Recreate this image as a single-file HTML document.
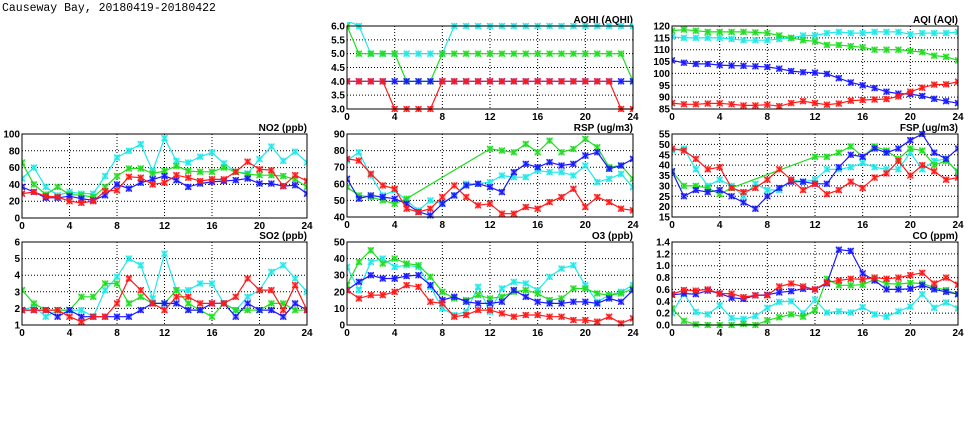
<!DOCTYPE html>
<html><head><meta charset="utf-8"><style>
body{margin:0;background:#fff;}
svg{display:block;}
text{font-family:"Liberation Sans",sans-serif;font-size:10px;font-weight:bold;fill:#000;}
</style></head><body>
<svg id="s" width="975" height="447" xmlns="http://www.w3.org/2000/svg">
<text x="2" y="11" style="font-family:'Liberation Mono',monospace;font-size:11.5px;font-weight:normal">Causeway Bay, 20180419-20180422</text>
</svg>
<script>
var S=document.getElementById('s'),NS='http://www.w3.org/2000/svg',out='';
var C={c:'#22e8e8',g:'#22dd22',b:'#1a1aff',r:'#ff1a1a'};
function panel(x0,x1,y0,y1,ymin,ymax,step,fmt,title,series){
 var W=x1-x0,H=y1-y0;
 function X(h){return x0+h/24*W;} function Y(v){return y1-(v-ymin)/(ymax-ymin)*H;}
 var s='';
 for(var h=4;h<24;h+=4)s+='<line x1="'+X(h)+'" x2="'+X(h)+'" y1="'+y0+'" y2="'+y1+'" stroke="#000" stroke-width="1" stroke-dasharray="1,2"/>';
 for(var v=ymin+step;v<ymax-1e-9;v+=step)s+='<line x1="'+x0+'" x2="'+x1+'" y1="'+Y(v)+'" y2="'+Y(v)+'" stroke="#000" stroke-width="1" stroke-dasharray="1,2"/>';
 for(var h=0;h<=24;h+=4)s+='<text x="'+X(h)+'" y="'+(y1+11)+'" text-anchor="middle">'+h+'</text>';
 for(var v=ymin;v<=ymax+1e-9;v+=step)s+='<text x="'+(x0-2)+'" y="'+(Y(v)+3.5)+'" text-anchor="end">'+v.toFixed(fmt)+'</text>';
 s+='<text x="'+x1+'" y="'+(y0-3)+'" text-anchor="end">'+title+'</text>';
 s+='<svg x="'+x0+'" y="'+(y0-4)+'" width="'+W+'" height="'+(H+8)+'" overflow="hidden"><g transform="translate('+(-x0)+','+(-(y0-4))+')">';
 ['c','g','b','r'].forEach(function(k){var d=series[k];if(!d)return;var col=C[k],pts=[];
  d.forEach(function(v,i){if(v!==null)pts.push([X(i),Math.min(Y(v),y1+0)]);});
  s+='<polyline fill="none" stroke="'+col+'" stroke-width="1.2" points="'+pts.map(function(p){return p[0].toFixed(1)+','+p[1].toFixed(1)}).join(' ')+'"/>';
  pts.forEach(function(p){var a=p[0],b=p[1];
   s+='<rect x="'+(a-3)+'" y="'+(b-3)+'" width="6" height="6" fill="'+col+'" fill-opacity="0.45"/>';
   s+='<path d="M'+(a-3)+' '+(b-3)+'L'+(a+3)+' '+(b+3)+'M'+(a-3)+' '+(b+3)+'L'+(a+3)+' '+(b-3)+'M'+a+' '+(b-3)+'L'+a+' '+(b+3)+'" stroke="'+col+'" stroke-width="1.2"/>';});
 });
 s+='</g></svg>';
 s+='<rect x="'+x0+'" y="'+y0+'" width="'+W+'" height="'+H+'" fill="none" stroke="#000" stroke-width="1"/>';
 out+=s;
}
var n=null;
panel(347,633,26,109,3,6,0.5,1,'AQHI (AQHI)',{
 c:[6.2,6,5,5,5,5,5,5,5,6,6,6,6,6,6,6,6,6,6,6,6,6,6,6,6],
 g:[6,5,5,5,5,4,4,4,5,5,5,5,5,5,5,5,5,5,5,5,5,5,5,5,4],
 b:[4,4,4,4,4,4,4,4,4,4,4,4,4,4,4,4,4,4,4,4,4,4,4,4,4],
 r:[4,4,4,4,3,3,3,3,4,4,4,4,4,4,4,4,4,4,4,4,4,4,4,3,3]});
panel(672,958,26,109,85,120,5,0,'AQI (AQI)',{
 c:[115.5,115,115,115,115,114.5,114,114,114,114.5,115,116,116,117,117.5,117,117,117.5,117.5,117.5,116.5,117,117,117,117.5],
 g:[118,118.5,118,117.5,117.5,117.5,117.5,117.3,117,116,115,114,113.5,112,112,111.5,111,110,110,110,109.5,109,107.5,107,105.5],
 b:[105.5,104.5,104,104,103.5,103.3,103.2,103,102.7,102,101,100.5,100.3,99.8,98,96.2,95,93.8,92.3,91.5,91.3,90.5,89.3,88.3,87.5],
 r:[87.5,87,87,87.3,87.4,87,86.5,86.5,86.8,86.2,87.5,88.3,87.5,86.8,87.3,88.5,88.8,89,89.2,90.3,92.3,94,95.3,95.4,96.5]});
panel(22,307,134,218,0,100,20,0,'NO2 (ppb)',{
 c:[47,60,37,27,31,29,29,50,72,80,88,56,95,68,66,73,78,65,55,53,70,85,68,79,66],
 g:[66,40,28,37,28,27,25,37,50,59,59,53,56,62,56,55,55,60,55,52,51,51,50,46,37],
 b:[37,31,24,24,26,23,21,27,40,35,42,46,50,45,37,41,43,44,45,47,41,41,38,39,29],
 r:[29,31,26,25,20,18,20,32,33,49,48,40,42,51,48,44,46,46,55,67,58,57,38,51,44]});
panel(347,633,134,217,40,90,10,0,'RSP (ug/m3)',{
 c:[74,79,65,53,56,50,44,50,48,53,60,60,61,65,64,64,68,67,67,65,71,61,63,66,58],
 g:[58,53,52,50,48,51,n,n,n,n,n,n,81,80,79,84,79,86,79,81,87,82,70,71,63],
 b:[63,51,53,52,51,48,43,41,48,53,59,60,58,55,67,72,70,73,71,72,77,79,69,71,75],
 r:[75,74,66,59,57,45,43,45,52,59,52,47,48,42,42,46,45,49,52,57,46,52,49,45,44]});
panel(672,958,134,217,15,55,5,0,'FSP (ug/m3)',{
 c:[47,48,38,30,33,30,25,31,28,28,33,32,33,38,38,39,41,39,38,38,46,38,42,43,36],
 g:[37,30,30,29,26,29,n,n,n,n,n,n,44,44,46,49,44,49,47,43,48,47,40,42,37],
 b:[37,25,28,27,28,25,22,19,25,29,32,32,31,31,39,45,44,48,46,48,52,55,46,43,48],
 r:[48,47,43,38,39,29,27,29,33,38,33,28,31,26,28,32,29,34,36,42,35,40,37,33,34]});
panel(22,307,242,325,1,6,1,0,'SO2 (ppb)',{
 c:[1.9,2.1,1.5,1.9,1.9,1.9,1.5,3.1,3.9,5.0,4.6,2.6,5.3,3.1,3.1,3.5,3.5,2.3,1.9,2.7,3.1,4.2,4.6,3.8,3.0],
 g:[3.1,2.3,1.9,1.9,1.9,2.7,2.7,3.5,3.5,2.3,2.7,2.3,2.3,3.1,2.3,1.9,1.5,2.3,1.9,1.9,1.9,2.3,2.3,1.9,1.9],
 b:[1.9,1.9,1.9,1.5,1.9,1.5,1.5,1.5,1.5,1.5,1.9,2.3,2.3,2.3,1.9,1.9,2.3,2.3,1.5,2.3,1.9,1.9,1.5,2.3,1.9],
 r:[1.9,1.9,1.9,1.9,1.5,1.2,1.5,1.5,2.3,3.8,3.1,2.3,1.9,2.7,2.7,2.3,2.3,2.3,2.7,3.8,3.1,3.1,1.9,3.4,1.9]});
panel(347,633,242,325,0,50,10,0,'O3 (ppb)',{
 c:[35,21,38,40,35,36,35,23,10,6,8,23,8,22,26,25,21,29,34,36,24,14,18,20,24],
 g:[24,38,45,37,40,37,36,29,20,16,15,18,16,17,20,21,19,15,16,22,22,19,18,19,22],
 b:[21,26,30,28,28,29.5,30,24,15,17,14,13,13,14,21,17,14,13,13,14,14,13,16,14,21],
 r:[21,16,18,18,20,24,23,14,13,5,6,9,9,7,5,6,6,5,5,3,3,2,5,1,4]});
panel(672,958,242,325,0,1.4,0.2,1,'CO (ppm)',{
 c:[.2,.53,.22,.18,.33,.12,.1,.15,.29,.39,.4,.2,.43,.21,.23,.21,.3,.18,.14,.23,.31,.52,.29,.38,.28],
 g:[.28,.07,.01,-0.05,0,-0.05,0.02,0,.08,.13,.18,.14,.25,.78,.67,.67,.68,.77,.7,.69,.71,.7,.63,.59,.52],
 b:[.51,.53,.52,.58,.53,.46,.44,.5,.51,.55,.57,.61,.6,.7,1.27,1.25,.87,.75,.6,.6,.61,.67,.6,.56,.52],
 r:[.52,.59,.58,.6,.53,.53,.47,.5,.5,.65,.7,.65,.6,.72,.75,.78,.77,.8,.78,.8,.84,.88,.7,.8,.68]});
S.insertAdjacentHTML('beforeend',out);
</script>
</body></html>
